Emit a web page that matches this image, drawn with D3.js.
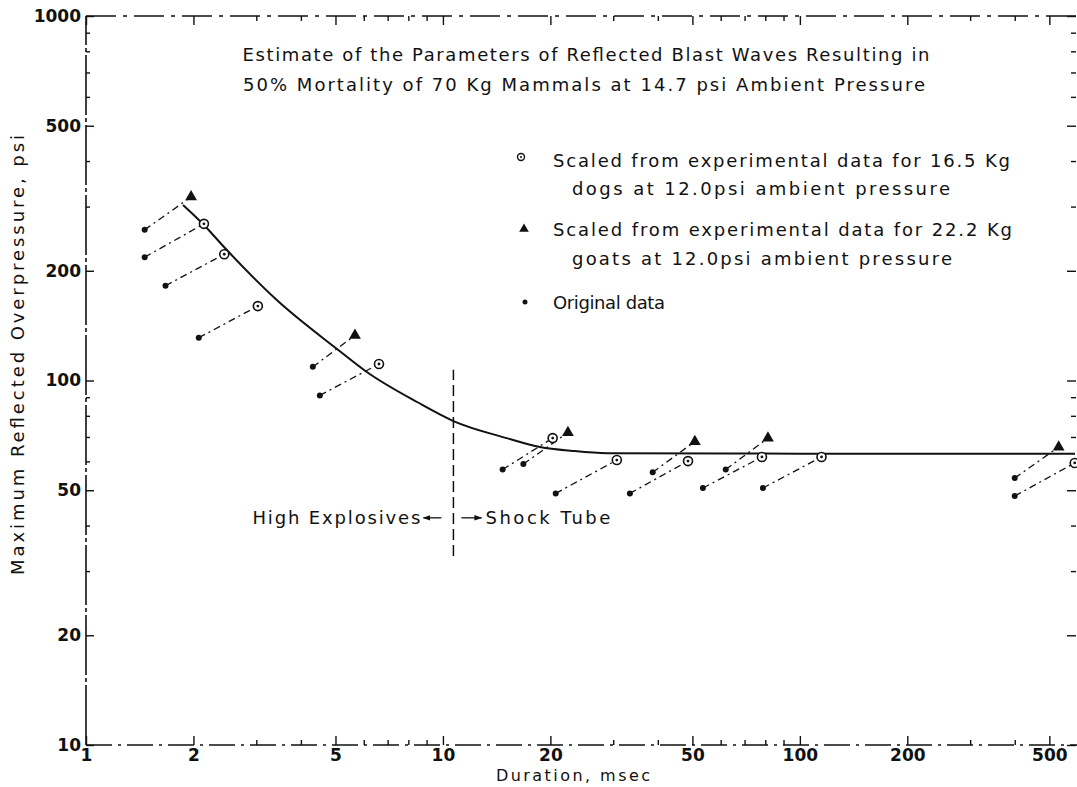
<!DOCTYPE html>
<html><head><meta charset="utf-8">
<script src="https://cdn.jsdelivr.net/npm/d3@7"></script>
<style>body{margin:0;background:#fff}svg{display:block}</style>
</head><body>
<svg id="chart" width="1077" height="787"></svg>
<script>
// ---------- data ----------
const titleLines = [
  "Estimate of the Parameters of Reflected Blast Waves Resulting in",
  "50% Mortality of 70 Kg Mammals at 14.7 psi Ambient Pressure"
];
const legendLabels = [
  ["Scaled from experimental data for 16.5 Kg", "dogs at 12.0psi ambient pressure"],
  ["Scaled from experimental data for 22.2 Kg", "goats at 12.0psi ambient pressure"],
  ["Original data"]
];
const xLabel = "Duration, msec";
const yLabel = "Maximum Reflected Overpressure, psi";
const leftNote = "High Explosives";
const rightNote = "Shock Tube";

const xDomain = [1, 590];
const yDomain = [10, 1000];
const xMajorTicks = [1, 2, 5, 10, 20, 50, 100, 200, 500];
const xMinorTicks = [3, 4, 6, 7, 8, 9, 30, 40, 60, 70, 80, 90, 300, 400];
const yMajorTicks = [10, 20, 50, 100, 200, 500, 1000];
const yMinorTicks = [30, 40, 60, 70, 80, 90, 300, 400, 600, 700, 800, 900];

// 50% mortality curve
const curveX = [1.87, 2.14, 2.44, 3.43, 5.05, 6.12, 8.46, 10.7, 15.1, 18.7, 23.1, 28.8, 100, 590];
const curveY = [303, 267, 232, 166, 122, 105.5, 87.3, 77.4, 69.5, 65.7, 64.1, 63.2, 63, 63];

// dogs (16.5 kg) : original -> scaled
const dogOrigX   = [1.46, 1.67, 2.07, 4.52, 14.7, 20.7, 33.4, 53.5, 78.8, 400];
const dogOrigY   = [218, 182, 131, 91, 57, 49, 49, 50.7, 50.7, 48.2];
const dogScaledX = [2.14, 2.44, 3.03, 6.62, 20.3, 30.7, 48.6, 78.3, 115, 589];
const dogScaledY = [269, 222, 160, 111, 69.5, 60.5, 60.1, 61.7, 61.7, 59.4];

// goats (22.2 kg) : original -> scaled
const goatOrigX   = [1.46, 4.32, 16.8, 38.7, 62, 400];
const goatOrigY   = [259, 109, 59, 56, 57, 54];
const goatScaledX = [1.97, 5.67, 22.4, 50.8, 81.4, 531];
const goatScaledY = [319, 133, 72, 68, 69.5, 65.7];

// divider between high explosives and shock tube
const dividerX = 10.7;
const dividerY = [33, 107];
const noteY = 42;

// ---------- drawing ----------
const svg = d3.select("#chart");
const FONT = "'DejaVu Sans', 'Open Sans', Arial, sans-serif";
const ink = "#111";

const x = d3.scaleLog().domain(xDomain).range([86, 1075]);
const y = d3.scaleLog().domain(yDomain).range([745, 16]);

const [X0, X1] = x.range();
const [Y0, Y1] = y.range();

// frame lines (scanned-look broken lines)
svg.append("line").attr("x1", X0).attr("x2", X0).attr("y1", Y0).attr("y2", Y1)
  .attr("stroke", ink).attr("stroke-width", 1.6).attr("stroke-dasharray", "60,3,4,3");
svg.append("line").attr("x1", X0).attr("x2", X1 + 10).attr("y1", Y0).attr("y2", Y0)
  .attr("stroke", ink).attr("stroke-width", 1.5).attr("stroke-dasharray", "26,6,3,6");
svg.append("line").attr("x1", X0).attr("x2", X1 + 10).attr("y1", Y1).attr("y2", Y1)
  .attr("stroke", ink).attr("stroke-width", 1.5).attr("stroke-dasharray", "30,7,4,7");

function styleAxis(g) {
  g.select(".domain").remove();
  g.selectAll(".tick line").attr("stroke", ink).attr("stroke-width", 1.4);
  g.selectAll(".tick text").attr("fill", ink).attr("font-family", FONT)
    .attr("font-size", 17).attr("font-weight", 600);
}
const fmt = d3.format("d");

// bottom
svg.append("g").attr("transform", `translate(0,${Y0})`)
  .call(d3.axisBottom(x).tickValues(xMajorTicks).tickFormat(fmt).tickSize(-9).tickPadding(4))
  .call(styleAxis);
svg.append("g").attr("transform", `translate(0,${Y0})`)
  .call(d3.axisBottom(x).tickValues(xMinorTicks).tickFormat("").tickSize(-5))
  .call(styleAxis);
// top
svg.append("g").attr("transform", `translate(0,${Y1})`)
  .call(d3.axisTop(x).tickValues(xMajorTicks).tickFormat("").tickSize(-9))
  .call(styleAxis);
svg.append("g").attr("transform", `translate(0,${Y1})`)
  .call(d3.axisTop(x).tickValues(xMinorTicks).tickFormat("").tickSize(-5))
  .call(styleAxis);
// left
svg.append("g").attr("transform", `translate(${X0},0)`)
  .call(d3.axisLeft(y).tickValues(yMajorTicks).tickFormat(fmt).tickSize(-8).tickPadding(5))
  .call(styleAxis);
svg.append("g").attr("transform", `translate(${X0},0)`)
  .call(d3.axisLeft(y).tickValues(yMinorTicks).tickFormat("").tickSize(-4))
  .call(styleAxis);
// right (ticks only)
svg.append("g").attr("transform", `translate(${X1 + 1},0)`)
  .call(d3.axisRight(y).tickValues(yMajorTicks).tickFormat("").tickSize(-9))
  .call(styleAxis);
svg.append("g").attr("transform", `translate(${X1 + 1},0)`)
  .call(d3.axisRight(y).tickValues(yMinorTicks).tickFormat("").tickSize(-5))
  .call(styleAxis);

// curve
const curvePts = curveX.map((d, i) => [d, curveY[i]]);
svg.append("path").datum(curvePts)
  .attr("d", d3.line().x(d => x(d[0])).y(d => y(d[1])).curve(d3.curveMonotoneX))
  .attr("fill", "none").attr("stroke", ink).attr("stroke-width", 2);

// connectors
const dogs = dogOrigX.map((d, i) => ({x0: d, y0: dogOrigY[i], x1: dogScaledX[i], y1: dogScaledY[i]}));
const goats = goatOrigX.map((d, i) => ({x0: d, y0: goatOrigY[i], x1: goatScaledX[i], y1: goatScaledY[i]}));

svg.append("g").selectAll("line").data(dogs.concat(goats)).join("line")
  .attr("x1", d => x(d.x0)).attr("y1", d => y(d.y0))
  .attr("x2", d => x(d.x1)).attr("y2", d => y(d.y1))
  .attr("stroke", ink).attr("stroke-width", 1.3).attr("stroke-dasharray", "7,4,2,4");

// original data dots
svg.append("g").selectAll("circle").data(dogs.concat(goats)).join("circle")
  .attr("cx", d => x(d.x0)).attr("cy", d => y(d.y0)).attr("r", 3).attr("fill", ink);

// dog scaled (circle with dot)
function dogMarker(sel) {
  sel.append("circle").attr("r", 4.5).attr("fill", "#fff").attr("stroke", ink).attr("stroke-width", 1.6);
  sel.append("circle").attr("r", 1.4).attr("fill", ink);
}
svg.append("g").selectAll("g").data(dogs).join("g")
  .attr("transform", d => `translate(${x(d.x1)},${y(d.y1)})`).call(dogMarker);

// goat scaled (triangle)
const tri = d3.symbol().type(d3.symbolTriangle).size(60);
svg.append("g").selectAll("path").data(goats).join("path")
  .attr("d", tri).attr("transform", d => `translate(${x(d.x1)},${y(d.y1)})`).attr("fill", ink);

// divider
svg.append("line").attr("x1", x(dividerX)).attr("x2", x(dividerX))
  .attr("y1", y(dividerY[0])).attr("y2", y(dividerY[1]))
  .attr("stroke", ink).attr("stroke-width", 1.5).attr("stroke-dasharray", "11,5");

// notes with arrows
const defs = svg.append("defs");
defs.append("marker").attr("id", "ah").attr("viewBox", "0 0 10 10").attr("refX", 9).attr("refY", 5)
  .attr("markerWidth", 6).attr("markerHeight", 6).attr("orient", "auto")
  .append("path").attr("d", "M0,1.5L10,5L0,8.5Z").attr("fill", ink);
const ny = y(noteY);
svg.append("line").attr("x1", x(dividerX) - 12).attr("x2", x(dividerX) - 30).attr("y1", ny).attr("y2", ny)
  .attr("stroke", ink).attr("stroke-width", 1.3).attr("marker-end", "url(#ah)");
svg.append("line").attr("x1", x(dividerX) + 8).attr("x2", x(dividerX) + 28).attr("y1", ny).attr("y2", ny)
  .attr("stroke", ink).attr("stroke-width", 1.3).attr("marker-end", "url(#ah)");

function txt(t, px, py, size, anchor, len) {
  const e = svg.append("text").attr("x", px).attr("y", py).text(t)
    .attr("font-family", FONT).attr("font-size", size).attr("font-weight", 500)
    .attr("fill", ink).attr("text-anchor", anchor || "start");
  if (len) e.attr("textLength", len).attr("lengthAdjust", "spacing");
  return e;
}
txt(leftNote, x(dividerX) - 33, ny + 6, 18, "end", 168);
txt(rightNote, x(dividerX) + 32, ny + 6, 18, "start", 125);

// title
txt(titleLines[0], 586, 61, 18, "middle", 687);
txt(titleLines[1], 584, 91, 18, "middle", 682);

// legend
const legX = 553;
txt(legendLabels[0][0], legX, 167, 18, "start", 457);
txt(legendLabels[0][1], legX + 19, 195, 18, "start", 378);
txt(legendLabels[1][0], legX, 236, 18, "start", 459);
txt(legendLabels[1][1], legX + 19, 265, 18, "start", 380);
txt(legendLabels[2][0], legX, 309, 18, "start", 112);
const lg1 = svg.append("g").attr("transform", "translate(521,157)");
lg1.append("circle").attr("r", 3.5).attr("fill", "#fff").attr("stroke", ink).attr("stroke-width", 1.4);
lg1.append("circle").attr("r", 1).attr("fill", ink);
svg.append("path").attr("d", d3.symbol().type(d3.symbolTriangle).size(40))
  .attr("transform", "translate(524,229)").attr("fill", ink);
svg.append("circle").attr("cx", 525).attr("cy", 302).attr("r", 2.5).attr("fill", ink);

// axis titles
txt(xLabel, 573, 781, 16, "middle", 154);
txt(yLabel, 0, 0, 18, "middle", 440).attr("transform", "translate(24,355) rotate(-90)");
</script>
</body></html>
